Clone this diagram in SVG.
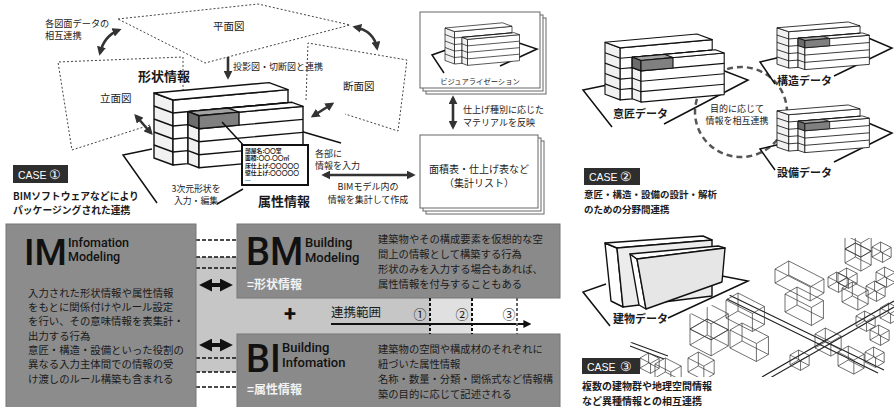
<svg xmlns="http://www.w3.org/2000/svg" xmlns:xlink="http://www.w3.org/1999/xlink" width="894" height="407" viewBox="0 0 894 407">
<style>
.jp{font-family:"Noto Sans CJK JP","Noto Sans",sans-serif;fill:#1a1a1a}
.b{font-weight:700}
.la{font-family:Roboto,"Liberation Sans",sans-serif;font-weight:500;fill:#111}
.c{dominant-baseline:central}
.mid{text-anchor:middle}
.dot{fill:none;stroke:#444;stroke-width:1;stroke-dasharray:2 2}
.arr{fill:none;stroke:#333;stroke-width:2.6;marker-start:url(#ah);marker-end:url(#ah)}
.bw{fill:#fff;stroke:#111;stroke-width:1.4;stroke-linejoin:round}
.bs{fill:#f1f1f1;stroke:#111;stroke-width:1.4;stroke-linejoin:round}
.fl{fill:none;stroke:#111;stroke-width:1.4}
.site{fill:none;stroke:#111;stroke-width:1.5}
.wf{fill:none;stroke:#333;stroke-width:0.7}
.road{fill:none;stroke:#222;stroke-width:1.1}
.pg{fill:#fff;stroke:#666;stroke-width:1}
.case{fill:#2e2e2e}
.ct{font-family:"Liberation Sans",Arial,sans-serif;fill:#fff}
.dash{stroke:#111;stroke-width:1.6;stroke-dasharray:4 2}
.big{fill:none;stroke:#111;stroke-width:4;marker-start:url(#ahb);marker-end:url(#ahb)}
</style>
<defs>
  <marker id="ah" viewBox="0 0 10 10" refX="7" refY="5" markerWidth="9" markerHeight="9" markerUnits="userSpaceOnUse" orient="auto-start-reverse">
    <path d="M0,0 L10,5 L0,10 z" fill="#333"/>
  </marker>
  <marker id="ahb" viewBox="0 0 10 10" refX="7" refY="5" markerWidth="13" markerHeight="13" markerUnits="userSpaceOnUse" orient="auto-start-reverse">
    <path d="M0,0 L10,5 L0,10 z" fill="#111"/>
  </marker>
  <marker id="ahs" viewBox="0 0 10 10" refX="7" refY="5" markerWidth="8" markerHeight="8" markerUnits="userSpaceOnUse" orient="auto">
    <path d="M0,0 L10,5 L0,10 z" fill="#111"/>
  </marker>
  <!-- stepped office block: tall back block + lower front block, five floors -->
  <g id="bldg">
    <polygon class="bs" points="173,165 154,158 154,93 173,100"/>
    <polygon class="bw" points="173,165 188,163.65 188,111.65 288,102.65 288,89.65 173,100"/>
    <polygon class="bw" points="173,100 288,89.65 269,82.62 154,93"/>
    <polygon class="bs" points="188,163.65 199,167.72 199,115.72 188,111.65"/>
    <polygon class="bw" points="199,167.72 303,158.36 303,106.36 199,115.72"/>
    <polygon class="bw" points="199,115.72 303,106.36 292,102.29 188,111.65"/>
    <path class="fl" d="M173,152 L154,145 M173,139 L154,132 M173,126 L154,119 M173,113 L154,106 M173,152 L188,150.65 M173,139 L188,137.65 M173,126 L188,124.65 M173,113 L288,102.65 M188,150.65 L199,154.72 M188,137.65 L199,141.72 M188,124.65 L199,128.72 M199,154.72 L303,145.36 M199,141.72 L303,132.36 M199,128.72 L303,119.36"/>
  </g>
  <!-- highlighted room on the top floor of the front block -->
  <g id="room" stroke="#111" stroke-width="1.4" stroke-linejoin="round">
    <polygon points="188,111.65 199,115.72 239,112.12 228,108.05" fill="#a3a3a3"/>
    <polygon points="188,111.65 199,115.72 199,128.72 188,124.65" fill="#6c6c6c"/>
    <polygon points="199,115.72 239,112.12 239,125.12 199,128.72" fill="#808080"/>
  </g>
  <!-- wireframe blocks for the city model -->
  <path id="wA" class="wf" d="M0,0 l26.4,13.5 l12.04,-7 l-26.4,-13.5 z m0,-18 l26.4,13.5 l12.04,-7 l-26.4,-13.5 z m0,18 v-18 m26.4,31.5 v-18 m12.04,11 v-18 m-26.4,4.5 v-18"/>
  <path id="wB" class="wf" d="M0,0 l15.84,8.1 l10.32,-6 l-15.84,-8.1 z m0,-14 l15.84,8.1 l10.32,-6 l-15.84,-8.1 z m0,14 v-14 m15.84,22.1 v-14 m10.32,8 v-14 m-15.84,5.9 v-14"/>
  <path id="wC" class="wf" d="M0,0 l10.56,5.4 l8.6,-5 l-10.56,-5.4 z m0,-10 l10.56,5.4 l8.6,-5 l-10.56,-5.4 z m0,10 v-10 m10.56,15.4 v-10 m8.6,5 v-10 m-10.56,4.6 v-10"/>
  <path id="wD" class="wf" d="M0,0 l35.2,18 l13.76,-8 l-35.2,-18 z m0,-14 l35.2,18 l13.76,-8 l-35.2,-18 z m0,14 v-14 m35.2,32 v-14 m13.76,6 v-14 m-35.2,-4 v-14"/>
  <path id="wE" class="wf" d="M0,0 l21.12,10.8 l17.2,-10 l-21.12,-10.8 z m0,-16 l21.12,10.8 l17.2,-10 l-21.12,-10.8 z m0,16 v-16 m21.12,26.8 v-16 m17.2,6 v-16 m-21.12,5.2 v-16"/>
  <clipPath id="cityClip">
    <polygon points="626,377 626,345 680,318 725,300 760,265 790,238 894,238 894,377"/>
  </clipPath>
</defs>

<rect width="894" height="407" fill="#fff"/>

<!-- ===== CASE 1 : packaged BIM ===== -->
<g id="drawing-planes">
  <polygon class="dot" points="118,19 258,4 350,25 205,63"/>
  <polyline class="dot" points="150,125 72,150 58,62 183,57 183,90"/>
  <polyline class="dot" points="306,100 308,43 407,60 398,131 345,114"/>
</g>
<g id="site-1">
  <polyline class="site" points="152,149 123,155 157,203"/>
  <line class="site" x1="217" y1="204" x2="243" y2="189"/>
  <line class="site" x1="300" y1="131" x2="341" y2="143"/>
</g>
<g id="model-3d">
  <use href="#bldg"/>
  <use href="#room"/>
  <line x1="222" y1="122" x2="246" y2="148" stroke="#111" stroke-width="1.5"/>
</g>
<g id="attribute-card">
  <rect x="242" y="145" width="66" height="40" fill="#fff" stroke="#111" stroke-width="2"/>
  <g class="jp b" font-size="5.8">
    <text x="245" y="150" class="c">部屋名:〇〇室</text>
    <text x="245" y="157.5" class="c">面積:〇〇.〇〇㎡</text>
    <text x="245" y="165" class="c">床仕上げ:〇〇〇〇〇</text>
    <text x="245" y="172.5" class="c">壁仕上げ:〇〇〇〇〇</text>
    <text x="245" y="180" class="c">…</text>
  </g>
</g>
<g id="visualization">
  <rect class="pg" x="426" y="18" width="120" height="76"/>
  <rect class="pg" x="423" y="15" width="120" height="76"/>
  <rect class="pg" x="420" y="12" width="120" height="76"/>
  <polyline class="site" stroke-width="1" points="446,50 432,55 444,73"/>
  <polyline class="site" stroke-width="1" points="516,42 537,49 500,66"/>
  <use href="#bldg" transform="translate(368,-18.5) scale(0.5)"/>
  <text x="480" y="81" class="jp c mid" font-size="7.3">ビジュアライゼーション</text>
</g>
<g id="schedule-list">
  <rect class="pg" x="426" y="141" width="118" height="73"/>
  <rect class="pg" x="423" y="138" width="118" height="73"/>
  <rect class="pg" x="420" y="135" width="118" height="73"/>
  <text x="479" y="168" class="jp c mid" font-size="10">面積表・仕上げ表など</text>
  <text x="479" y="182" class="jp c mid" font-size="10">（集計リスト）</text>
</g>
<g id="connectors-1">
  <path class="arr" d="M100,53 Q104,36 119,30"/>
  <path class="arr" d="M355,27 Q374,31 377,48"/>
  <path class="arr" d="M136,116 L151,133"/>
  <path class="arr" d="M313,116 L332,104"/>
  <path fill="none" stroke="#333" stroke-width="2.6" marker-end="url(#ah)" d="M228,57 L228,77"/>
  <path class="arr" d="M453,98 L453,127"/>
  <path class="arr" d="M324,175 L413,175"/>
</g>
<g id="labels-1" class="jp">
  <text x="45" y="22.5" class="c" font-size="9.2">各図面データの</text>
  <text x="45" y="35" class="c" font-size="9.2">相互連携</text>
  <text x="213" y="25" class="c" font-size="10.5">平面図</text>
  <text x="138" y="75" class="c b" font-size="13">形状情報</text>
  <text x="233" y="66" class="c" font-size="9">投影図・切断図と連携</text>
  <text x="100" y="97" class="c" font-size="10.5">立面図</text>
  <text x="343" y="85" class="c" font-size="10.5">断面図</text>
  <text x="315" y="153" class="c" font-size="9">各部に</text>
  <text x="315" y="165" class="c" font-size="9">情報を入力</text>
  <text x="196" y="188" class="c mid" font-size="8.8">3次元形状を</text>
  <text x="196" y="200" class="c mid" font-size="8.8">入力・編集</text>
  <text x="258" y="200" class="c b" font-size="13">属性情報</text>
  <text x="368" y="186" class="c mid" font-size="9">BIMモデル内の</text>
  <text x="368" y="199" class="c mid" font-size="9">情報を集計して作成</text>
  <text x="463" y="109" class="c" font-size="9">仕上げ種別に応じた</text>
  <text x="463" y="122" class="c" font-size="9">マテリアルを反映</text>
</g>
<g id="case-1">
  <rect class="case" x="13" y="165" width="55" height="18"/>
  <text x="18" y="174.5" class="ct c" font-size="10.5">CASE</text>
  <text x="49" y="174" class="ct c" font-size="13">①</text>
  <text x="13" y="196" class="jp c b" font-size="9.8">BIMソフトウェアなどにより</text>
  <text x="13" y="210" class="jp c b" font-size="9.8">パッケージングされた連携</text>
</g>

<!-- ===== IM / BM / BI ===== -->
<g id="scope-band">
  <rect x="196" y="257" width="41" height="115" fill="#c6c6c6"/>
  <rect x="237" y="298" width="193" height="36" fill="#c6c6c6"/>
  <rect x="430" y="298" width="42" height="36" fill="#e0e0e0"/>
  <path class="dash" d="M196,240 H237 M196,257 H237 M196,268 H237 M196,358 H237 M196,372 H237 M196,387 H237"/>
</g>
<g id="im">
  <rect x="6" y="224" width="190" height="190" fill="#8c8c8c" stroke="#777" stroke-width="1"/>
  <text x="24" y="265" class="la" font-size="37">IM</text>
  <text x="68" y="247" class="la" font-size="12.5">Infomation</text>
  <text x="68" y="261" class="la" font-size="12.5">Modeling</text>
  <g class="jp" font-size="10.4">
    <text x="28" y="292" class="c">入力された形状情報や属性情報</text>
    <text x="28" y="306" class="c">をもとに関係付けやルール設定</text>
    <text x="28" y="320" class="c">を行い、その意味情報を表集計・</text>
    <text x="28" y="335" class="c">出力する行為</text>
    <text x="28" y="349" class="c">意匠・構造・設備といった役割の</text>
    <text x="28" y="363.5" class="c">異なる入力主体間での情報の受</text>
    <text x="28" y="378" class="c">け渡しのルール構築も含まれる</text>
  </g>
</g>
<g id="bm">
  <rect x="237" y="224" width="323" height="74" fill="#8a8a8a" stroke="#777" stroke-width="1"/>
  <text x="246" y="265" class="la" font-size="38">BM</text>
  <text x="305" y="247" class="la" font-size="13">Building</text>
  <text x="305" y="262" class="la" font-size="13">Modeling</text>
  <text x="247" y="283" class="jp c b" font-size="12" style="fill:#f2f2f2">=形状情報</text>
  <g class="jp" font-size="10.3">
    <text x="378" y="238" class="c">建築物やその構成要素を仮想的な空</text>
    <text x="378" y="253" class="c">間上の情報として構築する行為</text>
    <text x="378" y="268" class="c">形状のみを入力する場合もあれば、</text>
    <text x="378" y="283" class="c">属性情報を付与することもある</text>
  </g>
</g>
<g id="bi">
  <rect x="237" y="334" width="323" height="80" fill="#8a8a8a" stroke="#777" stroke-width="1"/>
  <text x="246" y="372" class="la" font-size="38">BI</text>
  <text x="282" y="352" class="la" font-size="13">Building</text>
  <text x="282" y="367" class="la" font-size="13">Infomation</text>
  <text x="247" y="388" class="jp c b" font-size="12" style="fill:#f2f2f2">=属性情報</text>
  <g class="jp" font-size="10.3">
    <text x="378" y="348" class="c">建築物の空間や構成材のそれぞれに</text>
    <text x="378" y="363" class="c">紐づいた属性情報</text>
    <text x="378" y="378" class="c">名称・数量・分類・関係式など情報構</text>
    <text x="378" y="393" class="c">築の目的に応じて記述される</text>
  </g>
</g>
<g id="scope-axis">
  <path class="big" d="M203,285 L229,285"/>
  <path class="big" d="M203,345 L229,345"/>
  <text x="290" y="313" class="la c mid" font-size="22" style="font-weight:700">+</text>
  <text x="331" y="311" class="jp c" font-size="12.5">連携範囲</text>
  <text x="420" y="313" class="jp c mid" font-size="13">①</text>
  <text x="462" y="313" class="jp c mid" font-size="13">②</text>
  <text x="509" y="313" class="jp c mid" font-size="13">③</text>
  <path d="M331,324 H529" stroke="#111" stroke-width="2" marker-end="url(#ahs)"/>
  <path d="M430,298 V334 M472,298 V334" stroke="#111" stroke-width="2" stroke-dasharray="3 2"/>
  <path d="M517,298 V334" stroke="#666" stroke-width="2" stroke-dasharray="3 2"/>
</g>

<!-- ===== CASE 2 : discipline data exchange ===== -->
<ellipse id="exchange-ring" cx="741" cy="112" rx="46" ry="45" fill="none" stroke="#555" stroke-width="2.5" stroke-dasharray="6 4"/>
<g id="design-data">
  <polyline class="site" points="612,84 583,90 612,127"/>
  <polyline class="site" points="722,70 748,80 664,124"/>
  <use href="#bldg" transform="translate(481.8,-32.1) scale(0.8)"/>
  <use href="#room" transform="translate(481.8,-32.1) scale(0.8)"/>
  <text x="613" y="113" class="jp c b" font-size="11">意匠データ</text>
</g>
<g id="structure-data">
  <polyline class="site" stroke-width="1.2" points="785,56 760,62 775,84"/>
  <polyline class="site" stroke-width="1.2" points="866,37 892,48 834,76"/>
  <use href="#bldg" transform="translate(681.5,-24.3) scale(0.62,0.56)"/>
  <use href="#room" transform="translate(681.5,-24.3) scale(0.62,0.56)"/>
  <text x="777" y="80" class="jp c b" font-size="11">構造データ</text>
</g>
<g id="mep-data">
  <polyline class="site" stroke-width="1.2" points="785,143 760,149 775,170"/>
  <polyline class="site" stroke-width="1.2" points="866,122 892,133 834,162"/>
  <use href="#bldg" transform="translate(681.5,58.7) scale(0.62,0.56)"/>
  <use href="#room" transform="translate(681.5,58.7) scale(0.62,0.56)"/>
  <text x="777" y="172" class="jp c b" font-size="11">設備データ</text>
</g>
<g id="case-2">
  <text x="737" y="108" class="jp c mid" font-size="9">目的に応じて</text>
  <text x="737" y="120" class="jp c mid" font-size="9">情報を相互連携</text>
  <rect class="case" x="584" y="168" width="56" height="17"/>
  <text x="589" y="177" class="ct c" font-size="10.5">CASE</text>
  <text x="620" y="176.5" class="ct c" font-size="13">②</text>
  <text x="584" y="194" class="jp c b" font-size="9.5">意匠・構造・設備の設計・解析</text>
  <text x="584" y="209" class="jp c b" font-size="9.5">のための分野間連携</text>
</g>

<!-- ===== CASE 3 : building + city model ===== -->
<g id="city" clip-path="url(#cityClip)">
  <path class="road" d="M727,294 L884,370 M727,299 L878,373 M762,377 L894,301 M770,378 L894,307 M630,342 L668,356 M630,346 L664,359"/>
  <use href="#wD" x="775" y="283"/>
  <use href="#wA" x="785" y="312"/>
  <use href="#wB" x="845" y="263"/>
  <use href="#wB" x="845" y="249"/>
  <use href="#wC" x="872" y="257"/>
  <use href="#wC" x="828" y="287"/>
  <use href="#wC" x="838" y="283"/>
  <use href="#wB" x="842" y="302"/>
  <use href="#wC" x="866" y="296"/>
  <use href="#wC" x="876" y="282"/>
  <use href="#wA" x="726" y="318"/>
  <use href="#wA" x="730" y="348"/>
  <use href="#wE" x="690" y="345"/>
  <use href="#wE" x="690" y="329"/>
  <use href="#wB" x="688" y="372"/>
  <use href="#wC" x="640" y="368"/>
  <use href="#wB" x="655" y="378"/>
  <use href="#wC" x="856" y="326"/>
  <use href="#wC" x="870" y="340"/>
  <use href="#wB" x="815" y="348"/>
  <use href="#wC" x="790" y="365"/>
  <use href="#wB" x="838" y="366"/>
  <use href="#wC" x="865" y="362"/>
  <use href="#wC" x="880" y="318"/>
</g>
<g id="building-data">
  <polyline class="site" points="606,284 583,292 610,326"/>
  <polyline class="site" points="722,276 748,281 668,318"/>
  <polygon class="bw" points="605,243 617,248 623,307 611,301"/>
  <polygon class="bw" points="605,243 703,236 712,240 617,248"/>
  <polygon class="bw" points="617,248 712,240 712,296 623,307" style="fill:#ececec"/>
  <polygon class="bw" points="630,254 637,259 646,309 639,305"/>
  <polygon class="bw" points="630,254 718,246 725,248 637,259"/>
  <polygon class="bw" points="637,259 725,248 722,282 646,309" style="fill:#e6e6e6"/>
  <text x="613" y="318" class="jp c b" font-size="11">建物データ</text>
</g>
<g id="case-3">
  <rect class="case" x="582" y="358" width="58" height="16"/>
  <text x="587" y="366.5" class="ct c" font-size="10.5">CASE</text>
  <text x="620" y="366" class="ct c" font-size="13">③</text>
  <text x="582" y="385.5" class="jp c b" font-size="10">複数の建物群や地理空間情報</text>
  <text x="582" y="400" class="jp c b" font-size="10">など異種情報との相互連携</text>
</g>
</svg>
